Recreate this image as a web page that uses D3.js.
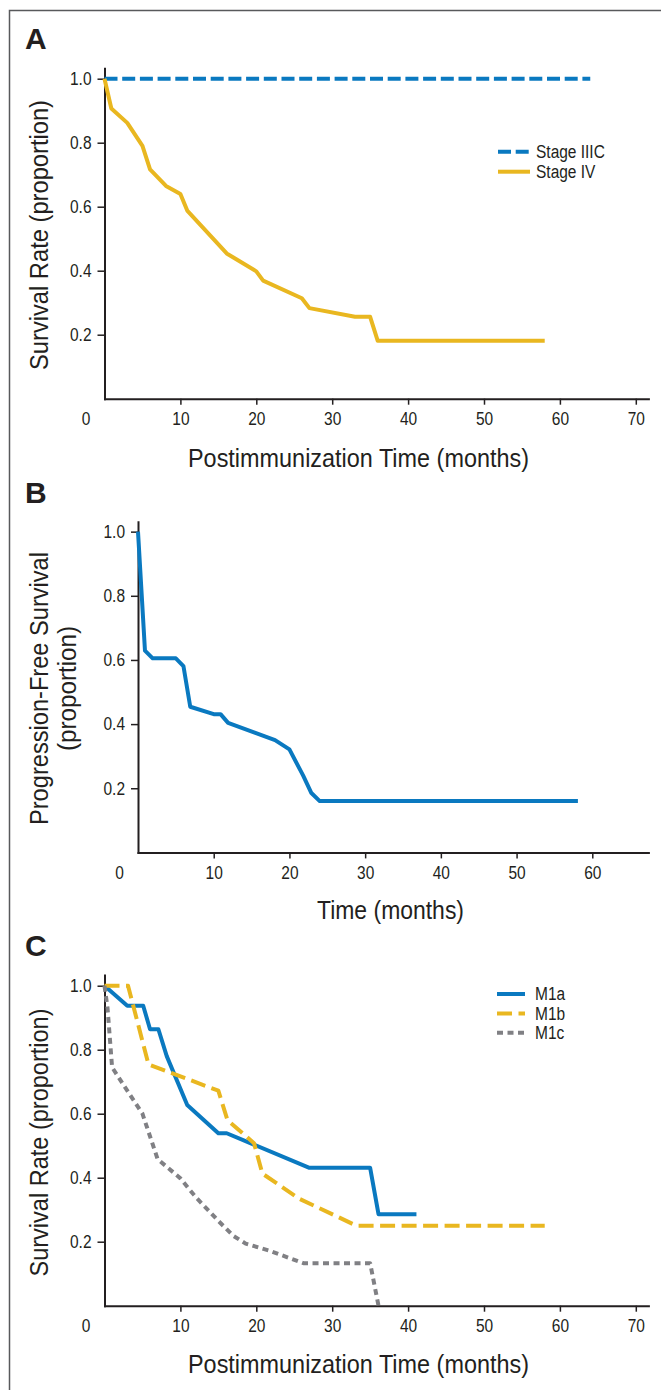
<!DOCTYPE html>
<html><head><meta charset="utf-8">
<script src="https://cdn.jsdelivr.net/npm/d3@7"></script>
<style>
body{margin:0;background:#fff}
svg{display:block}
text{font-family:"Liberation Sans",Arial,Helvetica,sans-serif;fill:#231f20}
</style>
</head><body>
<svg id="chart" width="661" height="1390"></svg>
<script>
// ---- Data (months, proportion) ----
const stageIIIC = [[0,1],[64,1]];
const stageIV = [[0,1],[0.9,0.907],[3,0.862],[5,0.79],[6,0.717],[8.1,0.665],[10,0.64],[10.9,0.588],[16.1,0.454],[20,0.398],[20.9,0.369],[26,0.314],[27,0.283],[33,0.256],[35,0.256],[36,0.181],[58,0.181]];
const pfs = [[0,1],[0.92,0.629],[1.94,0.605],[5,0.605],[6,0.581],[6.9,0.454],[10,0.431],[10.9,0.431],[11.9,0.404],[18.1,0.35],[20,0.321],[21.8,0.24],[22.9,0.185],[24,0.16],[58.1,0.16]];
const m1a = [[0,1],[3,0.9375],[5.1,0.9375],[6,0.864],[7.1,0.864],[8.2,0.78],[10.9,0.627],[15,0.539],[16.1,0.539],[27,0.431],[35,0.431],[36.1,0.286],[41.1,0.286]];
const m1b = [[0,1],[3.1,1],[5.8,0.754],[15,0.672],[16.2,0.58],[19.7,0.508],[20.8,0.413],[25.6,0.335],[33.2,0.25],[58,0.25]];
const m1c = [[0,1],[0.4,0.93],[1,0.745],[3,0.672],[5,0.6],[7,0.458],[10,0.398],[12,0.34],[15,0.265],[17,0.218],[18.6,0.194],[21.6,0.173],[26.2,0.133],[35,0.133],[36.1,0]];

const yTickValues = [0.2,0.4,0.6,0.8,1.0];
const xTickValuesAC = [10,20,30,40,50,60,70];
const xTickValuesB = [10,20,30,40,50,60];
const originLabel = "0";
const panelLetters = ["A","B","C"];
const legendA = ["Stage IIIC","Stage IV"];
const legendC = ["M1a","M1b","M1c"];
const xTitleAC = "Postimmunization Time (months)";
const xTitleB = "Time (months)";
const yTitleAC = ["Survival Rate (proportion)"];
const yTitleB = ["Progression-Free Survival","(proportion)"];

const BLUE = "#0a79c0", YELLOW = "#e9b720", GRAY = "#808084", INK = "#231f20";
const SMALL = 18, CONDENSE = 0.86;

const svg = d3.select("#chart");
svg.append("rect").attr("width",661).attr("height",1390).attr("fill","#fff");
// frame
svg.append("path").attr("d","M9.5,1400 V10.5 H680").attr("fill","none").attr("stroke","#58595b").attr("stroke-width",1.5);

function condense(sel){
  sel.each(function(){
    const w = this.getComputedTextLength();
    d3.select(this).attr("textLength",w*CONDENSE).attr("lengthAdjust","spacingAndGlyphs");
  });
}

function panel(cfg){
  const g = svg.append("g");
  const x = d3.scaleLinear().domain([0,cfg.xMax]).range([cfg.x0,cfg.x1]);
  const y = d3.scaleLinear().domain([0,cfg.yMax]).range([cfg.y0,cfg.y1]);

  g.append("text").text(cfg.letter).attr("x",25).attr("y",cfg.letterY)
    .attr("font-size",30).attr("font-weight","bold");

  const ya = g.append("g").attr("transform",`translate(${cfg.x0},0)`)
    .call(d3.axisLeft(y).tickValues(yTickValues).tickSize(7).tickSizeOuter(0).tickPadding(6).tickFormat(d3.format(".1f")));
  const xa = g.append("g").attr("transform",`translate(0,${cfg.y0})`)
    .call(d3.axisBottom(x).tickValues(cfg.xTicks).tickSize(6).tickSizeOuter(0).tickPadding(7.5).tickFormat(d3.format("d")));
  [ya,xa].forEach(a=>{
    a.select(".domain").attr("stroke",INK).attr("stroke-width",2).attr("stroke-linecap","square");
    a.selectAll(".tick line").attr("stroke",INK).attr("stroke-width",1.5);
    a.selectAll(".tick text").attr("font-size",SMALL).attr("fill",INK)
      .style("font-family",'"Liberation Sans",Arial,sans-serif').call(condense);
  });
  g.append("text").text(originLabel).attr("x",cfg.x0-18.5).attr("y",cfg.y0+6+7.5)
    .attr("dy","0.71em").attr("text-anchor","middle").attr("font-size",SMALL).call(condense);

  // x title
  g.append("text").text(cfg.xTitle).attr("x",cfg.xTitleX).attr("y",cfg.xTitleY)
    .attr("text-anchor","middle").attr("font-size",25.5)
    .attr("textLength",cfg.xTitleW).attr("lengthAdjust","spacingAndGlyphs");
  // y title
  cfg.yTitle.forEach((t,i)=>{
    g.append("text").text(t)
      .attr("transform",`translate(${cfg.yTitleX[i]},${cfg.yTitleC}) rotate(-90)`)
      .attr("text-anchor","middle").attr("font-size",25.5)
      .attr("textLength",cfg.yTitleW[i]).attr("lengthAdjust","spacingAndGlyphs");
  });

  const line = d3.line().x(d=>x(d[0])).y(d=>y(d[1]));
  cfg.series.forEach(s=>{
    g.append("path").datum(s.data).attr("d",line).attr("fill","none")
      .attr("stroke",s.color).attr("stroke-width",4)
      .attr("stroke-linejoin","round")
      .attr("stroke-dasharray",s.dash||null);
  });

  if(cfg.legend){
    cfg.legend.labels.forEach((lab,i)=>{
      const s = cfg.series[i];
      const ly = cfg.legend.y + i*cfg.legend.dy;
      g.append("line").attr("x1",cfg.legend.x1).attr("x2",cfg.legend.x2)
        .attr("y1",ly).attr("y2",ly).attr("stroke",s.color).attr("stroke-width",4)
        .attr("stroke-dasharray",s.dash||null);
      g.append("text").text(lab).attr("x",cfg.legend.tx).attr("y",ly).attr("dy","0.36em")
        .attr("font-size",SMALL).call(condense);
    });
  }
}

panel({letter:panelLetters[0],letterY:48.5,x0:104.5,x1:648.4,xMax:71.66,y0:398.7,y1:68.3,yMax:1.0325,
  xTicks:xTickValuesAC,xTitle:xTitleAC,xTitleX:358.5,xTitleY:466.5,xTitleW:341,
  yTitle:yTitleAC,yTitleX:[47.5],yTitleC:235,yTitleW:[270],
  series:[{data:stageIIIC,color:BLUE,dash:"13,4.7"},{data:stageIV,color:YELLOW}],
  legend:{labels:legendA,x1:498,x2:530,tx:536,y:151.7,dy:20}});

panel({letter:panelLetters[1],letterY:503,x0:138,x1:648.4,xMax:67.41,y0:852.4,y1:521.7,yMax:1.031,
  xTicks:xTickValuesB,xTitle:xTitleB,xTitleX:390.5,xTitleY:919.3,xTitleW:147,
  yTitle:yTitleB,yTitleX:[47.5,76],yTitleC:688.5,yTitleW:[273,125],
  series:[{data:pfs,color:BLUE}]});

panel({letter:panelLetters[2],letterY:956,x0:104.5,x1:648.4,xMax:71.66,y0:1305.7,y1:975,yMax:1.0335,
  xTicks:xTickValuesAC,xTitle:xTitleAC,xTitleX:358.5,xTitleY:1373.3,xTitleW:341,
  yTitle:yTitleAC,yTitleX:[47.5],yTitleC:1142.5,yTitleW:[268],
  series:[{data:m1a,color:BLUE},{data:m1b,color:YELLOW,dash:"15,6.5"},{data:m1c,color:GRAY,dash:"6,4.5"}],
  legend:{labels:legendC,x1:497,x2:525,tx:535,y:994,dy:19.4}});
</script>
</body></html>
